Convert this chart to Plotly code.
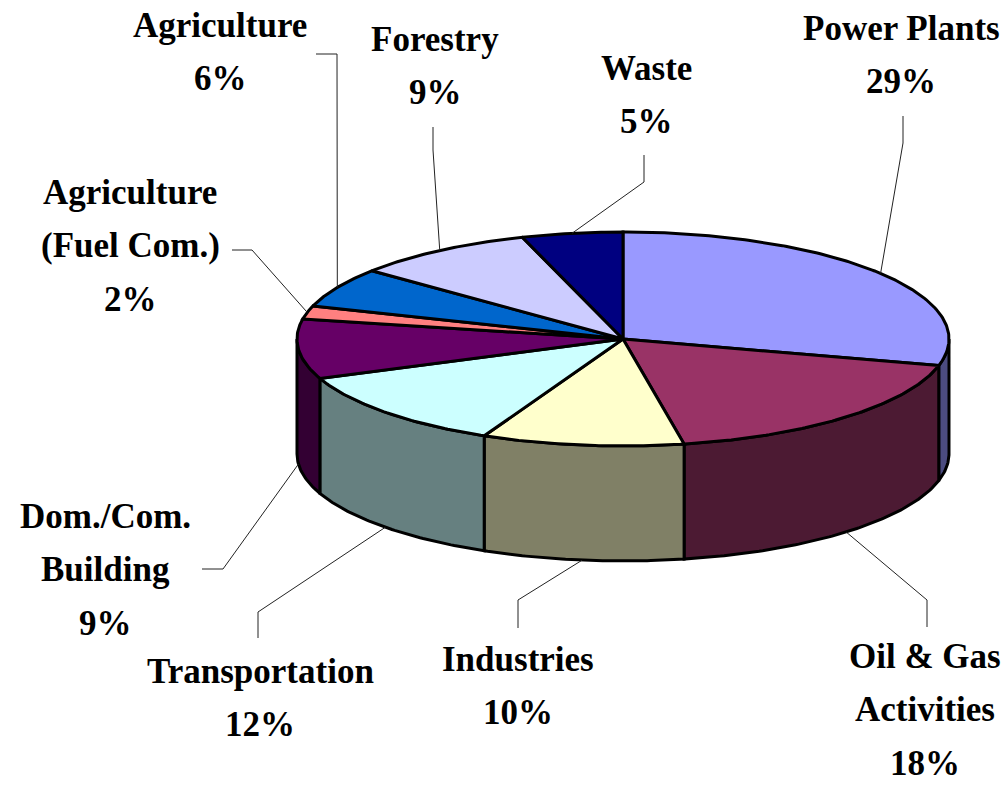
import numpy as np
import plotly.graph_objects as go

# ---------------- data ----------------
categories = ["Power Plants", "Oil & Gas Activities", "Industries", "Transportation",
              "Dom./Com. Building", "Agriculture (Fuel Com.)", "Agriculture", "Forestry", "Waste"]
shares = [29, 18, 10, 12, 9, 2, 6, 9, 5]
label_lines = [["Power Plants"], ["Oil & Gas", "Activities"], ["Industries"], ["Transportation"],
               ["Dom./Com.", "Building"], ["Agriculture", "(Fuel Com.)"], ["Agriculture"],
               ["Forestry"], ["Waste"]]
top_colors = ["#9999FF", "#993366", "#FFFFCC", "#CCFFFF", "#660066",
              "#FF8080", "#0066CC", "#CCCCFF", "#000080"]

# ---------------- layout / geometry ----------------
W, H = 1008, 785
CX, CY, RX, RY, DEPTH = 623, 339, 326, 107, 115
label_xy = [(901, 28), (925, 656), (518, 659), (260, 671), (105, 516),
            (130, 192), (220, 25), (435, 39), (646, 68)]
leader_elbow = [(903, 143), (927, 600), (518, 600), (258, 612), (223, 569),
                (252, 250), (337, 54), (433, 150), (644, 182)]
leader_end = [(903, 116), (927, 627), (518, 628), (258, 638), (202, 569),
              (232, 250), (316, 54), (433, 127), (644, 155)]
LINE_PITCH = 53.5
FONT = "Liberation Serif"
FONT_SIZE = 35


def shade(hexcol, f=0.5):
    h = hexcol.lstrip("#")
    r, g, b = (int(h[i:i + 2], 16) for i in (0, 2, 4))
    return "rgb(%d,%d,%d)" % (round(r * f), round(g * f), round(b * f))


def arc(t0, t1, dy=0.0):
    n = max(2, int(abs(t1 - t0) * 1.5) + 2)
    t = np.radians(np.linspace(t0, t1, n))
    return CX + RX * np.cos(t), CY - RY * np.sin(t) + dy


total = float(sum(shares))
cum = np.concatenate([[0.0], np.cumsum(shares)]) / total
theta_s = 90 - 360 * cum[:-1]
theta_e = 90 - 360 * cum[1:]

fig = go.Figure()

# side walls (front half only)
for i in range(len(shares)):
    lo = max(theta_e[i], -180.0)
    hi = min(theta_s[i], 0.0)
    if lo < hi:
        xt, yt = arc(hi, lo)
        xb, yb = arc(lo, hi, DEPTH)
        xs = np.concatenate([xt, xb, xt[:1]])
        ys = np.concatenate([yt, yb, yt[:1]])
        fig.add_trace(go.Scatter(x=xs, y=ys, mode="lines", fill="toself",
                                 fillcolor=shade(top_colors[i]),
                                 line=dict(color="black", width=3),
                                 hoverinfo="skip", showlegend=False))

# top faces
for i in range(len(shares)):
    xa, ya = arc(theta_s[i], theta_e[i])
    xs = np.concatenate([[CX], xa, [CX]])
    ys = np.concatenate([[CY], ya, [CY]])
    fig.add_trace(go.Scatter(x=xs, y=ys, mode="lines", fill="toself",
                             fillcolor=top_colors[i],
                             line=dict(color="black", width=3),
                             hoverinfo="text", text=categories[i], showlegend=False))

# leader lines
for i in range(len(shares)):
    tm = np.radians((theta_s[i] + theta_e[i]) / 2)
    px = CX + RX * np.cos(tm)
    py = CY - RY * np.sin(tm) + (DEPTH if np.sin(tm) < 0 else 0)
    fig.add_trace(go.Scatter(x=[px, leader_elbow[i][0], leader_end[i][0]],
                             y=[py, leader_elbow[i][1], leader_end[i][1]],
                             mode="lines", line=dict(color="#222222", width=1),
                             hoverinfo="skip", showlegend=False))

# labels
for i in range(len(shares)):
    lines = label_lines[i] + ["%d%%" % shares[i]]
    x0, y0 = label_xy[i]
    for k, txt in enumerate(lines):
        fig.add_annotation(x=x0, y=y0 + k * LINE_PITCH, xref="x", yref="y",
                           text="<b>%s</b>" % txt, showarrow=False,
                           xanchor="center", yanchor="middle",
                           font=dict(family=FONT, size=FONT_SIZE, color="black"))

fig.update_layout(width=W, height=H, margin=dict(l=0, r=0, t=0, b=0),
                  paper_bgcolor="white", plot_bgcolor="white", showlegend=False,
                  xaxis=dict(range=[0, W], visible=False, fixedrange=True),
                  yaxis=dict(range=[H, 0], visible=False, fixedrange=True))

fig.write_html("out.html", config={"displayModeBar": False},
               post_script="document.body.style.margin='0px';"
                           "document.body.style.overflow='hidden';")
